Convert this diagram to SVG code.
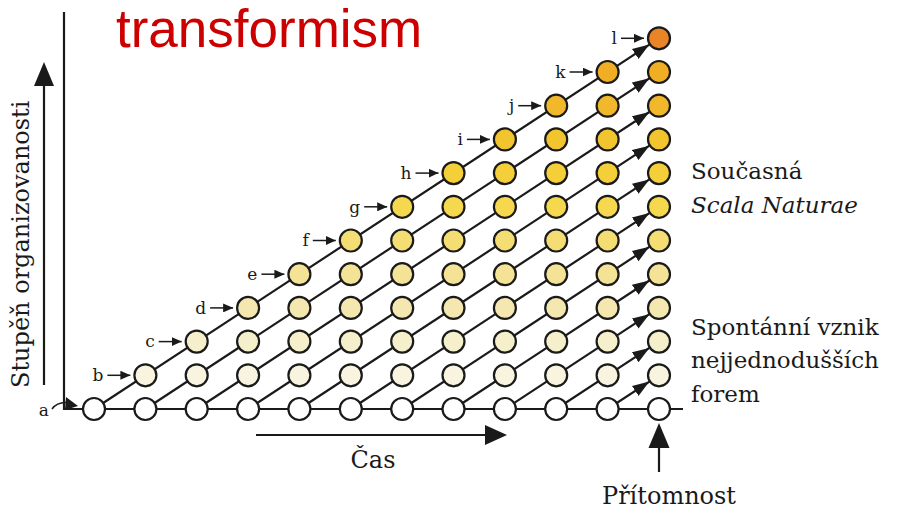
<svg xmlns="http://www.w3.org/2000/svg" width="901" height="512" viewBox="0 0 901 512">
<style>
.n{stroke:#1a1a1a;stroke-width:2.2}
.r0{fill:#ffffff}.r1{fill:#f8f4e0}.r2{fill:#f6efcc}.r3{fill:#f4e8b0}.r4{fill:#f4e396}.r5{fill:#f4dd72}
.r6{fill:#f5d84e}.r7{fill:#f4cf3a}.r8{fill:#f2c52e}.r9{fill:#f0b82a}.r10{fill:#efae24}.r11{fill:#e98427}
.ln{stroke:#1a1a1a;stroke-width:2.2;fill:none}
.sa{stroke:#1a1a1a;stroke-width:1.5;fill:none}
.t{font-family:"DejaVu Serif","Liberation Serif",serif;fill:#1a1a1a}
.lab{font-family:"DejaVu Serif","Liberation Serif",serif;font-size:17px;fill:#1a1a1a;text-anchor:end}
</style>
<defs>
<marker id="ah" markerUnits="userSpaceOnUse" markerWidth="18" markerHeight="14" viewBox="0 0 18 14" refX="17" refY="7" orient="auto"><path d="M0,1 L17,7 L0,13 z" fill="#1a1a1a"/></marker>
<marker id="sm" markerUnits="userSpaceOnUse" markerWidth="10" markerHeight="9" viewBox="0 0 10 9" refX="10" refY="4.5" orient="auto"><path d="M0,0 L10,4.5 L0,9 z" fill="#1a1a1a"/></marker>
</defs>
<rect width="901" height="512" fill="#ffffff"/>
<text x="116" y="47" font-family="Liberation Sans, Arial, sans-serif" font-size="53" fill="#cc0000">transformism</text>
<g id="axes">
<polyline class="ln" points="64,12 64,409 683,409"/>
<line class="ln" x1="44" y1="385" x2="44" y2="80"/>
<polygon points="44,62 34,86 54,86" fill="#1a1a1a"/>
<line class="ln" x1="256" y1="435" x2="490" y2="435"/>
<polygon points="507,435 485,425 485,445" fill="#1a1a1a"/>
<line class="ln" x1="659" y1="472" x2="659" y2="440"/>
<polygon points="659,423 648.5,448 669.5,448" fill="#1a1a1a"/>
</g>
<g id="connectors">
<line class="ln" x1="94" y1="409" x2="649.4" y2="44.6" marker-end="url(#ah)"/>
<line class="ln" x1="145.4" y1="409" x2="649.4" y2="78.3" marker-end="url(#ah)"/>
<line class="ln" x1="196.7" y1="409" x2="649.4" y2="112" marker-end="url(#ah)"/>
<line class="ln" x1="248.1" y1="409" x2="649.4" y2="145.7" marker-end="url(#ah)"/>
<line class="ln" x1="299.4" y1="409" x2="649.4" y2="179.4" marker-end="url(#ah)"/>
<line class="ln" x1="350.8" y1="409" x2="649.4" y2="213.1" marker-end="url(#ah)"/>
<line class="ln" x1="402.2" y1="409" x2="649.4" y2="246.8" marker-end="url(#ah)"/>
<line class="ln" x1="453.5" y1="409" x2="649.4" y2="280.5" marker-end="url(#ah)"/>
<line class="ln" x1="504.9" y1="409" x2="649.4" y2="314.2" marker-end="url(#ah)"/>
<line class="ln" x1="556.2" y1="409" x2="649.4" y2="347.9" marker-end="url(#ah)"/>
<line class="ln" x1="607.6" y1="409" x2="649.4" y2="381.6" marker-end="url(#ah)"/>
</g>
<g id="nodes">
<g id="row0">
<circle class="n r0" r="11" cx="94" cy="409"/><circle class="n r0" r="11" cx="145.4" cy="409"/><circle class="n r0" r="11" cx="196.7" cy="409"/><circle class="n r0" r="11" cx="248.1" cy="409"/><circle class="n r0" r="11" cx="299.4" cy="409"/><circle class="n r0" r="11" cx="350.8" cy="409"/><circle class="n r0" r="11" cx="402.2" cy="409"/><circle class="n r0" r="11" cx="453.5" cy="409"/><circle class="n r0" r="11" cx="504.9" cy="409"/><circle class="n r0" r="11" cx="556.2" cy="409"/><circle class="n r0" r="11" cx="607.6" cy="409"/><circle class="n r0" r="11" cx="659" cy="409"/>
</g>
<g id="row1">
<circle class="n r1" r="11" cx="145.4" cy="375.3"/><circle class="n r1" r="11" cx="196.7" cy="375.3"/><circle class="n r1" r="11" cx="248.1" cy="375.3"/><circle class="n r1" r="11" cx="299.4" cy="375.3"/><circle class="n r1" r="11" cx="350.8" cy="375.3"/><circle class="n r1" r="11" cx="402.2" cy="375.3"/><circle class="n r1" r="11" cx="453.5" cy="375.3"/><circle class="n r1" r="11" cx="504.9" cy="375.3"/><circle class="n r1" r="11" cx="556.2" cy="375.3"/><circle class="n r1" r="11" cx="607.6" cy="375.3"/><circle class="n r1" r="11" cx="659" cy="375.3"/>
</g>
<g id="row2">
<circle class="n r2" r="11" cx="196.7" cy="341.6"/><circle class="n r2" r="11" cx="248.1" cy="341.6"/><circle class="n r2" r="11" cx="299.4" cy="341.6"/><circle class="n r2" r="11" cx="350.8" cy="341.6"/><circle class="n r2" r="11" cx="402.2" cy="341.6"/><circle class="n r2" r="11" cx="453.5" cy="341.6"/><circle class="n r2" r="11" cx="504.9" cy="341.6"/><circle class="n r2" r="11" cx="556.2" cy="341.6"/><circle class="n r2" r="11" cx="607.6" cy="341.6"/><circle class="n r2" r="11" cx="659" cy="341.6"/>
</g>
<g id="row3">
<circle class="n r3" r="11" cx="248.1" cy="307.9"/><circle class="n r3" r="11" cx="299.4" cy="307.9"/><circle class="n r3" r="11" cx="350.8" cy="307.9"/><circle class="n r3" r="11" cx="402.2" cy="307.9"/><circle class="n r3" r="11" cx="453.5" cy="307.9"/><circle class="n r3" r="11" cx="504.9" cy="307.9"/><circle class="n r3" r="11" cx="556.2" cy="307.9"/><circle class="n r3" r="11" cx="607.6" cy="307.9"/><circle class="n r3" r="11" cx="659" cy="307.9"/>
</g>
<g id="row4">
<circle class="n r4" r="11" cx="299.4" cy="274.2"/><circle class="n r4" r="11" cx="350.8" cy="274.2"/><circle class="n r4" r="11" cx="402.2" cy="274.2"/><circle class="n r4" r="11" cx="453.5" cy="274.2"/><circle class="n r4" r="11" cx="504.9" cy="274.2"/><circle class="n r4" r="11" cx="556.2" cy="274.2"/><circle class="n r4" r="11" cx="607.6" cy="274.2"/><circle class="n r4" r="11" cx="659" cy="274.2"/>
</g>
<g id="row5">
<circle class="n r5" r="11" cx="350.8" cy="240.5"/><circle class="n r5" r="11" cx="402.2" cy="240.5"/><circle class="n r5" r="11" cx="453.5" cy="240.5"/><circle class="n r5" r="11" cx="504.9" cy="240.5"/><circle class="n r5" r="11" cx="556.2" cy="240.5"/><circle class="n r5" r="11" cx="607.6" cy="240.5"/><circle class="n r5" r="11" cx="659" cy="240.5"/>
</g>
<g id="row6">
<circle class="n r6" r="11" cx="402.2" cy="206.8"/><circle class="n r6" r="11" cx="453.5" cy="206.8"/><circle class="n r6" r="11" cx="504.9" cy="206.8"/><circle class="n r6" r="11" cx="556.2" cy="206.8"/><circle class="n r6" r="11" cx="607.6" cy="206.8"/><circle class="n r6" r="11" cx="659" cy="206.8"/>
</g>
<g id="row7">
<circle class="n r7" r="11" cx="453.5" cy="173.1"/><circle class="n r7" r="11" cx="504.9" cy="173.1"/><circle class="n r7" r="11" cx="556.2" cy="173.1"/><circle class="n r7" r="11" cx="607.6" cy="173.1"/><circle class="n r7" r="11" cx="659" cy="173.1"/>
</g>
<g id="row8">
<circle class="n r8" r="11" cx="504.9" cy="139.4"/><circle class="n r8" r="11" cx="556.2" cy="139.4"/><circle class="n r8" r="11" cx="607.6" cy="139.4"/><circle class="n r8" r="11" cx="659" cy="139.4"/>
</g>
<g id="row9">
<circle class="n r9" r="11" cx="556.2" cy="105.7"/><circle class="n r9" r="11" cx="607.6" cy="105.7"/><circle class="n r9" r="11" cx="659" cy="105.7"/>
</g>
<g id="row10">
<circle class="n r10" r="11" cx="607.6" cy="72"/><circle class="n r10" r="11" cx="659" cy="72"/>
</g>
<g id="row11">
<circle class="n r11" r="11" cx="659" cy="38.3"/>
</g>
</g>
<g id="labels">
<text class="lab" x="49" y="416">a</text>
<path class="sa" d="M52,409 Q58,401 70,403"/>
<polygon points="78,406 66,397 65,410" fill="#1a1a1a"/>
<text class="lab" x="103.4" y="381">b</text><line class="sa" x1="107.4" y1="375.3" x2="130.4" y2="375.3" marker-end="url(#sm)"/>
<text class="lab" x="154.7" y="347.3">c</text><line class="sa" x1="158.7" y1="341.6" x2="181.7" y2="341.6" marker-end="url(#sm)"/>
<text class="lab" x="206.1" y="313.6">d</text><line class="sa" x1="210.1" y1="307.9" x2="233.1" y2="307.9" marker-end="url(#sm)"/>
<text class="lab" x="257.4" y="279.9">e</text><line class="sa" x1="261.4" y1="274.2" x2="284.4" y2="274.2" marker-end="url(#sm)"/>
<text class="lab" x="308.8" y="246.2">f</text><line class="sa" x1="312.8" y1="240.5" x2="335.8" y2="240.5" marker-end="url(#sm)"/>
<text class="lab" x="360.2" y="212.5">g</text><line class="sa" x1="364.2" y1="206.8" x2="387.2" y2="206.8" marker-end="url(#sm)"/>
<text class="lab" x="411.5" y="178.8">h</text><line class="sa" x1="415.5" y1="173.1" x2="438.5" y2="173.1" marker-end="url(#sm)"/>
<text class="lab" x="462.9" y="145.1">i</text><line class="sa" x1="466.9" y1="139.4" x2="489.9" y2="139.4" marker-end="url(#sm)"/>
<text class="lab" x="514.2" y="111.4">j</text><line class="sa" x1="518.2" y1="105.7" x2="541.2" y2="105.7" marker-end="url(#sm)"/>
<text class="lab" x="565.6" y="77.7">k</text><line class="sa" x1="569.6" y1="72" x2="592.6" y2="72" marker-end="url(#sm)"/>
<text class="lab" x="617" y="44">l</text><line class="sa" x1="621" y1="38.3" x2="644" y2="38.3" marker-end="url(#sm)"/>
</g>
<g id="captions">
<text class="t" font-size="24" transform="translate(29,388) rotate(-90)">Stupěň organizovanosti</text>
<text class="t" font-size="24" x="373" y="468" text-anchor="middle">Čas</text>
<text class="t" font-size="24" x="669" y="504" text-anchor="middle">Přítomnost</text>
<text class="t" font-size="23" x="691" y="179">Současná</text>
<text class="t" font-size="23" x="691" y="213" font-style="italic">Scala Naturae</text>
<text class="t" font-size="23" x="691" y="335">Spontánní vznik</text>
<text class="t" font-size="23" x="691" y="368">nejjednodušších</text>
<text class="t" font-size="23" x="691" y="402">forem</text>
</g>
</svg>
